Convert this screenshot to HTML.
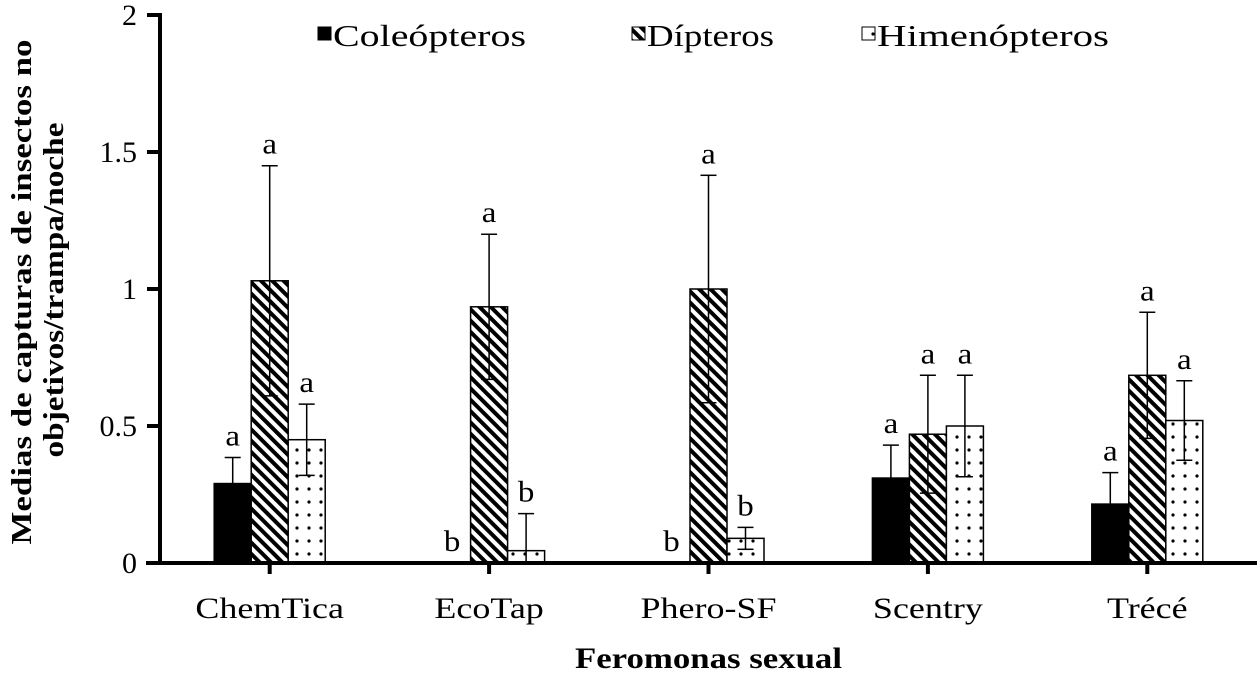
<!DOCTYPE html>
<html><head><meta charset="utf-8"><style>body{margin:0;background:#fff}svg{display:block;font-family:"Liberation Serif",serif}</style></head>
<body>
<svg id="c" width="1257" height="674" viewBox="0 0 1257 674">
<defs>
<pattern id="diag" width="8" height="8" patternUnits="userSpaceOnUse" patternTransform="rotate(-45)">
<rect width="8" height="8" fill="#fff"/><rect width="4" height="8" fill="#000"/></pattern>
<pattern id="dots" width="12" height="13" patternUnits="userSpaceOnUse" x="3" y="2">
<rect width="12" height="13" fill="#fff"/><circle cx="6" cy="6" r="1.6" fill="#000"/></pattern>
</defs>
<g id="plot"></g>
</svg>
<script>
const categories=["ChemTica","EcoTap","Phero-SF","Scentry","Trécé"];
const seriesNames=["Coleópteros","Dípteros","Himenópteros"];
const coleo=[0.29,0,0,0.31,0.215];
const diptero=[1.03,0.935,1.0,0.47,0.685];
const himeno=[0.45,0.045,0.09,0.50,0.52];
const coleoErr=[0.095,0,0,0.12,0.115];
const dipteroErr=[0.42,0.265,0.415,0.215,0.23];
const himenoErr=[0.13,0.135,0.04,0.185,0.145];
const coleoLet=["a","b","b","a","a"];
const dipteroLet=["a","a","a","a","a"];
const himenoLet=["a","b","b","a","a"];
const yTicks=[0,0.5,1,1.5,2];
const yTickLabels=["0","0.5","1","1.5","2"];

const NS="http://www.w3.org/2000/svg";
const g=document.getElementById('plot');
const X0=160,X1=1257,Y0=563,Y1=15;
const y=v=>Y0-(v/2)*(Y0-Y1);
const band=(X1-X0)/categories.length;
const cx=i=>X0+band*(i+0.5);
const BW=37;
function mk(t,a,txt){const e=document.createElementNS(NS,t);for(const k in a)e.setAttribute(k,a[k]);if(txt!==undefined)e.textContent=txt;g.appendChild(e);return e;}
function txt(x,yy,s,size,anchor,sx,bold){const e=mk('text',{x:0,y:0,'text-anchor':anchor,transform:`translate(${x},${yy}) scale(${sx},1)`,style:`font-size:${size}px;${bold?'font-weight:bold;':''}`},s);return e;}
const series=[[coleo,coleoErr,coleoLet,"#000"],[diptero,dipteroErr,dipteroLet,"url(#diag)"],[himeno,himenoErr,himenoLet,"url(#dots)"]];
categories.forEach((c,i)=>{
 series.forEach((s,j)=>{
  const v=s[0][i],e=s[1][i];
  const xl=cx(i)+(j-1.5)*BW, xm=xl+BW/2;
  if(v>0){const r=mk('rect',{x:xl,y:y(v),width:BW,height:Y0-y(v),fill:s[3],stroke:'#000','stroke-width':1.5});
  
  }
  let top=y(v);
  if(e>0){const lo=Math.max(0,v-e);
   const l=mk('line',{x1:xm,x2:xm,y1:y(lo),y2:y(v+e),stroke:'#000','stroke-width':1.5});
   
   
   mk('line',{x1:xm-8,x2:xm+8,y1:y(v+e),y2:y(v+e),stroke:'#000','stroke-width':1.5});
   if(v-e>0)mk('line',{x1:xm-8,x2:xm+8,y1:y(lo),y2:y(lo),stroke:'#000','stroke-width':1.5});
   top=y(v+e);}
  const t=txt(xm,top-12,s[2][i],30,'middle',1.1,false);
  
  
 });
 mk('line',{x1:cx(i),x2:cx(i),y1:Y0,y2:Y0+11,stroke:'#000','stroke-width':4});
 const xl=txt(cx(i),618,c,30,'middle',1.2,false);
 
 
});
yTicks.forEach((v,k)=>{
 mk('line',{x1:147,x2:X0,y1:y(v),y2:y(v),stroke:'#000','stroke-width':4});
 const t=txt(137,y(v)+10,yTickLabels[k],30,'end',1,false);
 
 
});
const ax=mk('line',{x1:X0,x2:X0,y1:Y1-2,y2:Y0+2,stroke:'#000','stroke-width':4});


const bx=mk('line',{x1:X0-14,x2:X1,y1:Y0,y2:Y0,stroke:'#000','stroke-width':4});


const xt=mk('text',{x:575,y:668,textLength:267,lengthAdjust:'spacingAndGlyphs',style:'font-size:30px;font-weight:bold'},'Feromonas  sexual');


const yt1=mk('text',{x:0,y:0,'text-anchor':'middle',textLength:505,lengthAdjust:'spacingAndGlyphs',style:'font-size:29px;font-weight:bold',transform:'translate(31,292) rotate(-90)'},'Medias de capturas de insectos no');


const yt2=mk('text',{x:0,y:0,'text-anchor':'middle',textLength:335,lengthAdjust:'spacingAndGlyphs',style:'font-size:29px;font-weight:bold',transform:'translate(63,290) rotate(-90)'},'objetivos/trampa/noche');


const legX=[318,632,862],legW=[193,127,232],fills=["#000","url(#diag)","url(#dots)"];
seriesNames.forEach((n,j)=>{
 const r=mk('rect',{x:legX[j],y:27,width:13,height:13,fill:fills[j],stroke:'#000','stroke-width':1});
 
 
 const t=mk('text',{x:legX[j]+15,y:46,textLength:legW[j],lengthAdjust:'spacingAndGlyphs',style:'font-size:31px'},n);
 
 
});
</script>
</body></html>
